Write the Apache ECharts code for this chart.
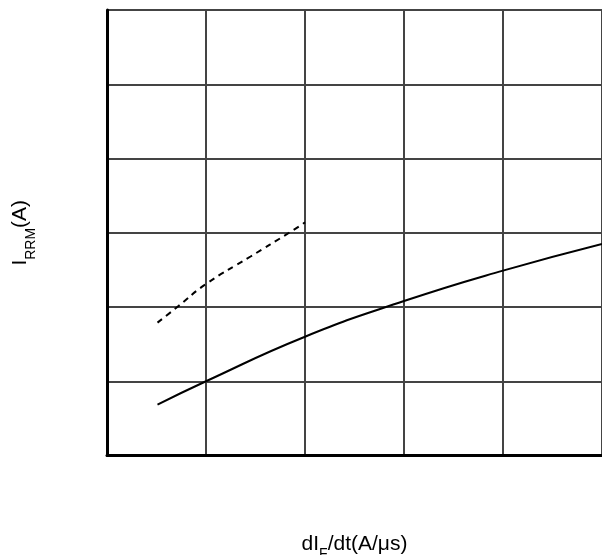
<!DOCTYPE html>
<html><head><meta charset="utf-8">
<script src="https://cdn.jsdelivr.net/npm/echarts@6/dist/echarts.min.js"></script>
<style>html,body{margin:0;padding:0;background:#fff}#c{width:602px;height:555px}</style>
</head><body><div id="c"></div>
<script>
var solidX = [0.51, 1.0, 2.0, 3.0, 4.0, 5.0];
var solidY = [0.685, 1.0, 1.6, 2.08, 2.49, 2.85];
var dashX = [0.51, 0.71, 1.0, 1.45, 1.84, 2.0];
var dashY = [1.79, 2.0, 2.31, 2.68, 3.0, 3.14];

function pairs(xs, ys){ return xs.map(function(x,i){return [x, ys[i]];}); }

var richStyle = {
  n: {fontFamily: 'Liberation Sans', fontSize: 21, color: '#000', lineHeight: 25, verticalAlign: 'top'},
  s: {fontFamily: 'Liberation Sans', fontSize: 14, color: '#000', lineHeight: 15, verticalAlign: 'top', padding: [14,0,0,0]}
};

var chart = echarts.init(document.getElementById('c'));
chart.setOption({
  animation: false,
  grid: {left: 107, top: 10, right: 0, bottom: 99.5, outerBoundsMode: 'none', containLabel: false},
  xAxis: {
    type: 'value', min: 0, max: 5, interval: 1,
    axisLine: {show: true, onZero: false, lineStyle: {color: '#000', width: 3}},
    axisTick: {show: false}, axisLabel: {show: false},
    splitLine: {show: true, lineStyle: {color: '#444', width: 2}},
    name: '{n|dI}{s|F}{n|/dt(A/μs)}',
    nameLocation: 'middle', nameGap: 78,
    nameTextStyle: {rich: richStyle}
  },
  yAxis: {
    type: 'value', min: 0, max: 6, interval: 1,
    axisLine: {show: true, onZero: false, lineStyle: {color: '#000', width: 3}},
    axisTick: {show: false}, axisLabel: {show: false},
    splitLine: {show: true, lineStyle: {color: '#444', width: 2}},
    name: '{n|I}{s|RRM}{n|(A)}',
    nameLocation: 'middle', nameGap: 72,
    nameTextStyle: {rich: richStyle}
  },
  series: [
    {type: 'line', data: pairs(solidX, solidY), smooth: true, symbol: 'none',
     lineStyle: {color: '#000', width: 2}},
    {type: 'line', data: pairs(dashX, dashY), smooth: true, symbol: 'none',
     lineStyle: {color: '#000', width: 2, type: [6, 5]}}
  ]
});
</script></body></html>
